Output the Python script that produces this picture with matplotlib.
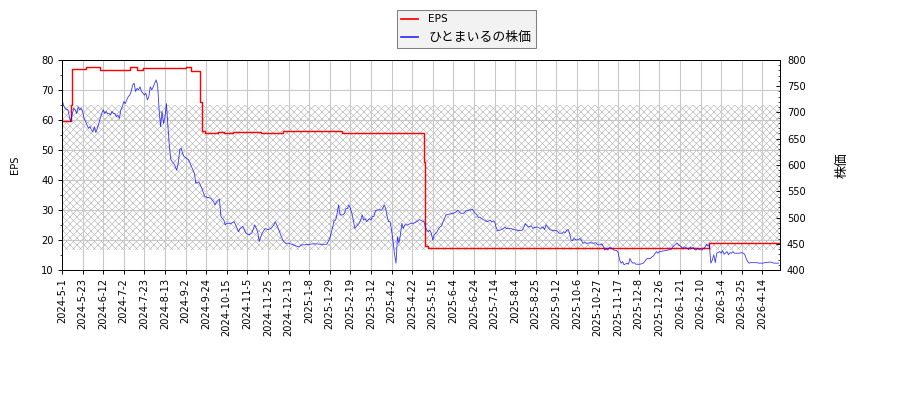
import matplotlib
matplotlib.use("Agg")
import matplotlib.pyplot as plt
from matplotlib.ticker import MultipleLocator
import numpy as np

plt.rcParams['font.family'] = ['DejaVu Sans', 'Noto Sans CJK JP']
plt.rcParams['hatch.linewidth'] = 0.5

# x tick labels (every 14 trading days)
tick_labels = ['2024-5-1', '2024-5-23', '2024-6-12', '2024-7-2', '2024-7-23', '2024-8-13',
               '2024-9-2', '2024-9-24', '2024-10-15', '2024-11-5', '2024-11-25', '2024-12-13',
               '2025-1-8', '2025-1-29', '2025-2-19', '2025-3-12', '2025-4-2', '2025-4-22',
               '2025-5-15', '2025-6-4', '2025-6-24', '2025-7-14', '2025-8-4', '2025-8-25',
               '2025-9-12', '2025-10-6', '2025-10-27', '2025-11-17', '2025-12-8', '2025-12-26',
               '2026-1-21', '2026-2-10', '2026-3-4', '2026-3-25', '2026-4-14']
tick_step = 14
n_days = 488

# EPS (step series): trading-day index where value changes, and value
eps_idx = [0, 6, 7, 16, 26, 46, 51, 55, 84, 88, 94, 95, 97, 106, 110, 116, 135, 150,
           190, 210, 222, 237, 246, 247, 249, 440, 488]
eps_val = [59.6, 65.0, 76.9, 77.6, 76.7, 77.6, 76.7, 77.4, 77.6, 76.4, 66.0, 56.3, 55.8,
           56.1, 55.8, 56.0, 55.6, 56.2, 55.7, 55.8, 55.6, 55.8, 46.0, 18.0, 17.3, 18.9, 18.9]

# Stock price samples: trading-day index and price
price_idx = [0, 1, 2, 3, 4, 5, 6, 7, 8, 9, 10, 11, 12, 13, 14, 15, 16, 17, 18, 19, 20,
             21, 22, 23, 24, 25, 26, 27, 28, 29, 30, 31, 32, 33, 34, 35, 36, 37, 38, 39, 40,
             41, 42, 43, 44, 45, 46, 47, 48, 49, 50, 51, 52, 53, 54, 55, 56, 57, 58, 59, 60,
             61, 62, 63, 64, 65, 66, 67, 68, 69, 70, 71, 72, 73, 74, 75, 76, 77, 78, 79, 80,
             81, 82, 83, 86, 88, 90, 91, 93, 95, 97, 99, 101, 103, 104, 105, 107, 108, 110,
             111, 112, 115, 117, 118, 120, 121, 123, 125, 127, 129, 131, 133, 134, 136, 138,
             140, 142, 144, 145, 147, 150, 152, 154, 157, 161, 163, 165, 168, 172, 176, 180,
             182, 184, 185, 186, 187, 188, 189, 191, 192, 193, 194, 195, 196, 197, 198, 199,
             201, 202, 203, 204, 205, 206, 207, 209, 210, 211, 212, 213, 214, 216, 217, 218,
             219, 220, 221, 222, 223, 224, 225, 226, 227, 228, 229, 230, 231, 232, 233, 235,
             237, 239, 241, 243, 245, 246, 247, 248, 249, 250, 251, 252, 253, 255, 256, 257,
             258, 259, 260, 261, 264, 266, 268, 269, 271, 273, 274, 275, 277, 279, 280, 282,
             283, 284, 285, 287, 289, 291, 292, 294, 295, 296, 298, 300, 301, 302, 305, 307,
             309, 311, 313, 315, 317, 319, 320, 321, 323, 325, 327, 328, 329, 330, 332, 333,
             334, 336, 337, 338, 340, 341, 342, 343, 344, 345, 346, 347, 348, 349, 350, 352,
             353, 354, 355, 357, 359, 361, 363, 364, 366, 367, 368, 369, 370, 371, 372, 374,
             375, 377, 378, 379, 380, 381, 382, 384, 385, 386, 387, 388, 389, 390, 393, 395,
             396, 397, 398, 400, 401, 402, 403, 404, 405, 406, 408, 410, 412, 414, 415, 417,
             418, 419, 420, 421, 422, 423, 424, 426, 427, 428, 429, 430, 431, 432, 433, 435,
             436, 437, 438, 439, 440, 441, 442, 443, 444, 445, 447, 448, 449, 450, 452, 453,
             454, 455, 456, 457, 460, 462, 463, 464, 465, 466, 467, 468, 470, 472, 474, 476,
             478, 480, 482, 484, 487]
price = [725, 714, 708, 706, 705, 692, 683, 698, 708, 705, 698, 711, 705, 708, 702, 689,
         683, 676, 670, 673, 667, 663, 673, 662, 670, 679, 689, 698, 705, 698, 702, 698,
         698, 695, 702, 698, 698, 692, 695, 689, 705, 711, 721, 717, 724, 730, 733, 740,
         752, 756, 740, 746, 743, 749, 740, 737, 733, 737, 724, 730, 749, 743, 749, 756,
         762, 752, 705, 673, 702, 679, 692, 717, 673, 635, 610, 606, 603, 597, 590, 603,
         629, 632, 622, 616, 610, 597, 584, 565, 568, 556, 540, 538, 537, 530, 524, 530,
         535, 502, 495, 486, 489, 489, 492, 486, 473, 479, 483, 470, 467, 470, 486, 473,
         454, 470, 479, 477, 479, 486, 492, 479, 457, 451, 451, 448, 444, 448, 448, 449,
         450, 449, 449, 460, 482, 495, 495, 508, 524, 505, 505, 508, 517, 517, 524, 517,
         508, 495, 479, 486, 489, 495, 505, 495, 498, 492, 498, 495, 502, 502, 513, 514,
         515, 514, 517, 524, 517, 502, 492, 492, 476, 454, 430, 413, 463, 451, 467, 489,
         479, 486, 486, 489, 489, 492, 496, 493, 492, 482, 476, 473, 476, 470, 457, 467,
         473, 479, 482, 484, 492, 498, 505, 507, 508, 511, 514, 508, 508, 511, 513, 514,
         516, 511, 505, 500, 501, 498, 495, 492, 495, 492, 492, 482, 475, 476, 479, 482,
         479, 479, 477, 476, 475, 476, 488, 482, 484, 479, 481, 482, 479, 482, 477, 486,
         482, 476, 476, 475, 475, 473, 470, 470, 473, 471, 476, 477, 470, 457, 456, 460,
         458, 457, 460, 457, 451, 452, 451, 452, 451, 452, 448, 448, 450, 444, 438, 441,
         438, 443, 441, 438, 437, 433, 419, 413, 416, 410, 413, 411, 422, 416, 413, 414,
         411, 411, 413, 416, 420, 422, 422, 425, 427, 431, 435, 432, 435, 436, 437, 438,
         439, 444, 449, 451, 448, 446, 444, 441, 444, 443, 439, 444, 441, 443, 439, 438,
         441, 439, 438, 441, 443, 449, 446, 448, 413, 419, 429, 414, 432, 435, 432, 437,
         430, 435, 429, 433, 432, 435, 432, 432, 433, 432, 430, 422, 416, 413, 414, 414,
         414, 413, 413, 414, 415, 415, 413, 413]

DPI = 84
fig = plt.figure(figsize=(900 / DPI, 400 / DPI), dpi=DPI)
ax1 = fig.add_axes([62 / 900, 130 / 400, 718 / 900, 210 / 400])
ax2 = ax1.twinx()

# hatched band
ax1.axhspan(16.7, 65, facecolor='none', edgecolor='#b4b4b4', hatch='xxxx', linewidth=0, zorder=0.5)

ln1, = ax1.step(eps_idx, eps_val, where='post', color='red', lw=1.2, label='EPS', zorder=3)
ln2, = ax2.plot(price_idx, price, color='blue', lw=0.7, alpha=0.8, label='ひとまいるの株価')

ax1.set_xlim(0, n_days)
ax1.set_ylim(10, 80)
ax2.set_ylim(400, 800)

ax1.set_xticks(np.arange(len(tick_labels)) * tick_step)
ax1.set_xticklabels(tick_labels, rotation=90, fontsize=8.5)
ax1.yaxis.set_major_locator(MultipleLocator(10))
ax1.yaxis.set_minor_locator(MultipleLocator(5))
ax2.yaxis.set_major_locator(MultipleLocator(50))
ax2.yaxis.set_minor_locator(MultipleLocator(10))
ax1.tick_params(axis='y', labelsize=8.5)
ax2.tick_params(axis='y', which='both', direction='in', labelsize=8.5)
ax2.tick_params(axis='y', which='major', pad=6)

ax1.grid(True, color='#c8c8c8', lw=0.9)
ax1.set_axisbelow(True)

ax1.set_ylabel('EPS', fontsize=8.5)
ax1.yaxis.set_label_coords((20 - 62) / 718, 0.5)
ax2.set_ylabel('株価', fontsize=11, family=['Noto Sans CJK JP', 'DejaVu Sans'])
ax2.yaxis.set_label_coords((836 - 62) / 718, 0.5)

leg = fig.legend([ln1, ln2], ['EPS', 'ひとまいるの株価'], loc='upper left',
                 bbox_to_anchor=(397 / 900, 1 - 10 / 400), borderaxespad=0,
                 fontsize=9, fancybox=False, framealpha=1, facecolor='#f2f2f2',
                 edgecolor='#808080', handlelength=1.6, handletextpad=1.0,
                 borderpad=0.4, labelspacing=0.65)
leg.get_texts()[1].set_fontsize(11)
leg.get_frame().set_linewidth(0.9)
for h in leg.get_lines():
    h.set_linewidth(1.5)

fig.savefig('out.png', dpi=DPI)
